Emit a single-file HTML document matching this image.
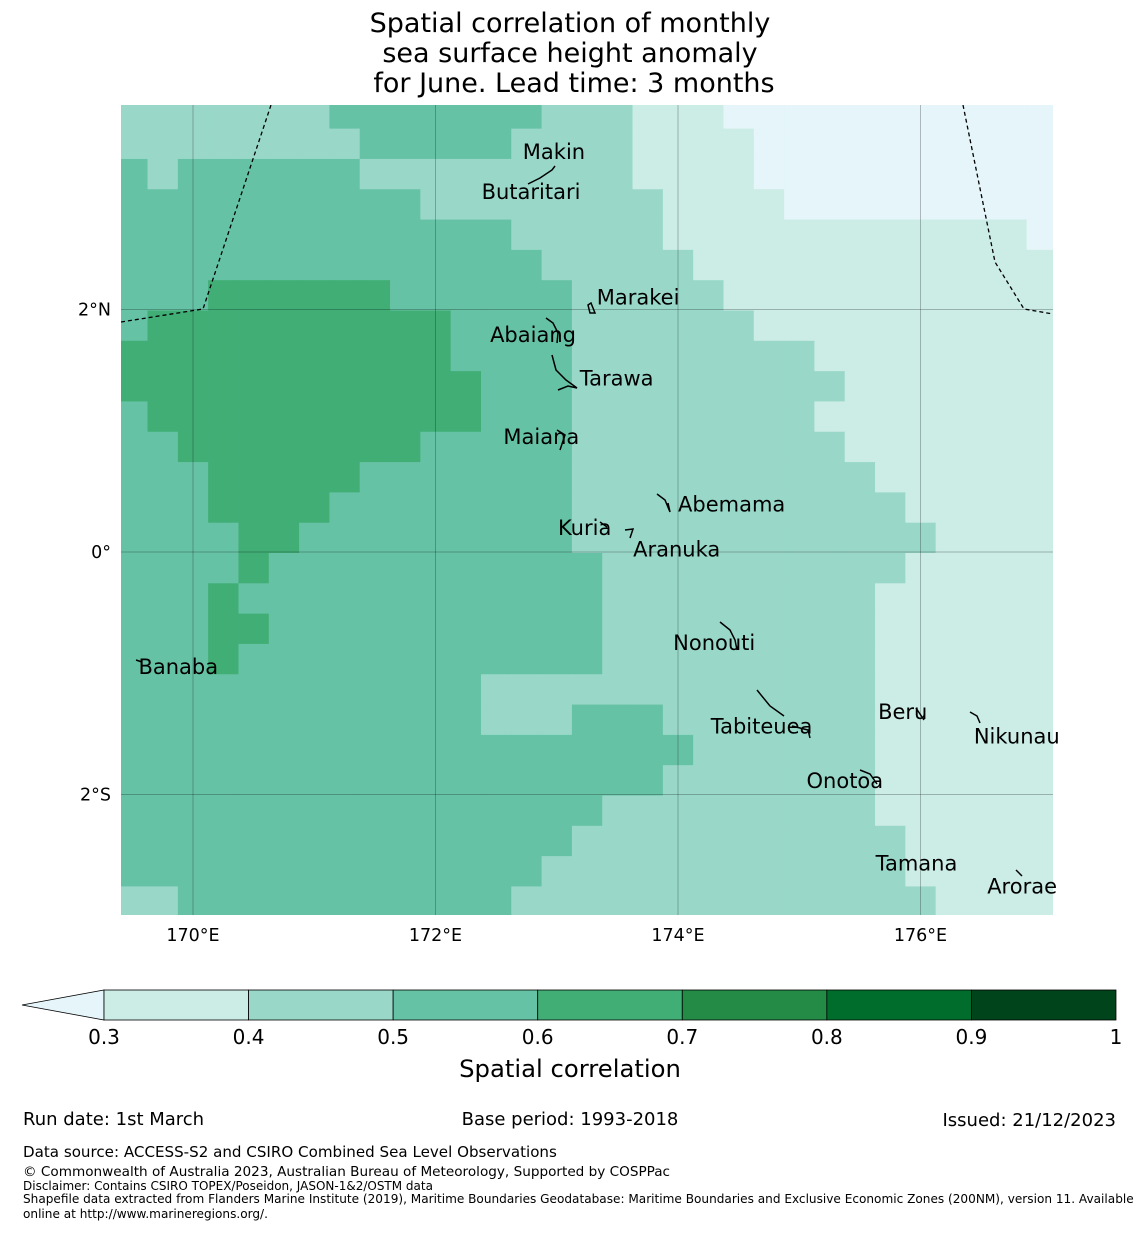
<!DOCTYPE html>
<html><head><meta charset="utf-8"><style>
body{margin:0;background:#fff;}
svg text{font-family:"DejaVu Sans","Liberation Sans",sans-serif;}
</style></head><body>
<svg id="chart" width="1140" height="1230" xmlns="http://www.w3.org/2000/svg">
<g font-size="27" text-anchor="middle" fill="#000">
<text x="570" y="32">Spatial correlation of monthly</text>
<text x="570" y="62">sea surface height anomaly</text>
<text x="574" y="92">for June. Lead time: 3 months</text>
</g>
<defs><clipPath id="mapclip"><rect x="121" y="105" width="932" height="810"/></clipPath></defs>
<g id="cells" clip-path="url(#mapclip)"></g>
<g id="grid" clip-path="url(#mapclip)"></g>
<g id="eez" clip-path="url(#mapclip)" fill="none" stroke="#000" stroke-width="1.3" stroke-dasharray="4,3">
<polyline points="121,322 203,309 271,105"/>
<polyline points="963,105 995,262 1024,309 1053,314"/>
</g>
<g id="islands" fill="none" stroke="#000" stroke-width="1.5"></g>
<g id="labels" font-size="21" fill="#000"></g>
<g id="axes" font-size="17.5" fill="#000"></g>
<g id="cbar"></g>
<text x="570" y="1077" font-size="24.3" text-anchor="middle">Spatial correlation</text>
<g font-size="18" fill="#000">
<text x="23" y="1125">Run date: 1st March</text>
<text x="570" y="1125" text-anchor="middle">Base period: 1993-2018</text>
<text x="1116" y="1126" text-anchor="end">Issued: 21/12/2023</text>
<text x="23" y="1157" font-size="15.1">Data source: ACCESS-S2 and CSIRO Combined Sea Level Observations</text>
<text x="23" y="1176" font-size="13.6">© Commonwealth of Australia 2023, Australian Bureau of Meteorology, Supported by COSPPac</text>
<text x="23" y="1190" font-size="12">Disclaimer: Contains CSIRO TOPEX/Poseidon, JASON-1&amp;2/OSTM data</text>
<text x="23" y="1203" font-size="12.1">Shapefile data extracted from Flanders Marine Institute (2019), Maritime Boundaries Geodatabase: Maritime Boundaries and Exclusive Economic Zones (200NM), version 11. Available</text>
<text x="23" y="1218" font-size="12.1">online at http://www.marineregions.org/.</text>
</g>
</svg>
<script>
// level index per cell: 0:<0.3, 1:0.3-0.4, 2:0.4-0.5, 3:0.5-0.6, 4:0.6-0.7 ; run-length [level,count]
const rowRuns = [
[[2,7],[3,7],[2,3],[1,3],[0,11]],
[[2,8],[3,5],[2,4],[1,4],[0,10]],
[[3,1],[2,1],[3,6],[2,9],[1,4],[0,10]],
[[3,10],[2,8],[1,4],[0,9]],
[[3,13],[2,5],[1,12],[0,1]],
[[3,14],[2,5],[1,12]],
[[3,3],[4,6],[3,6],[2,5],[1,11]],
[[3,1],[4,10],[3,4],[2,6],[1,10]],
[[4,11],[3,4],[2,8],[1,8]],
[[4,12],[3,3],[2,9],[1,7]],
[[3,1],[4,11],[3,3],[2,8],[1,8]],
[[3,2],[4,8],[3,5],[2,9],[1,7]],
[[3,3],[4,5],[3,7],[2,10],[1,6]],
[[3,3],[4,4],[3,8],[2,11],[1,5]],
[[3,4],[4,2],[3,9],[2,12],[1,4]],
[[3,4],[4,1],[3,11],[2,10],[1,5]],
[[3,3],[4,1],[3,12],[2,9],[1,6]],
[[3,3],[4,2],[3,11],[2,9],[1,6]],
[[3,3],[4,1],[3,12],[2,9],[1,6]],
[[3,12],[2,13],[1,6]],
[[3,12],[2,3],[3,3],[2,7],[1,6]],
[[3,19],[2,6],[1,6]],
[[3,18],[2,7],[1,6]],
[[3,16],[2,9],[1,6]],
[[3,15],[2,11],[1,5]],
[[3,14],[2,12],[1,5]],
[[2,2],[3,11],[2,14],[1,4]]
];
const levelColors = ["#e5f5f9","#ccece6","#99d8c9","#66c2a4","#41ae76","#238b45","#006d2c","#00441b"];
const lonTicks = [170,172,174,176];
const lonLabels = ["170°E","172°E","174°E","176°E"];
const latTicks = [2,0,-2];
const latLabels = ["2°N","0°","2°S"];
const cbarTicks = ["0.3","0.4","0.5","0.6","0.7","0.8","0.9","1"];
const islandNames = ["Makin","Butaritari","Marakei","Abaiang","Tarawa","Maiana","Abemama","Kuria","Aranuka","Banaba","Nonouti","Beru","Tabiteuea","Nikunau","Onotoa","Tamana","Arorae"];
const islandLabelLon = [172.72,172.38,173.33,172.45,173.19,172.56,174.0,173.01,173.63,169.55,173.96,175.65,174.27,176.44,175.06,175.63,176.55];
const islandLabelLat = [3.3,2.97,2.1,1.79,1.43,0.95,0.39,0.2,0.02,-0.95,-0.75,-1.32,-1.44,-1.52,-1.89,-2.57,-2.76];
const NS="http://www.w3.org/2000/svg";
const X = lon => 193 + (lon-170)*121.25;
const Y = lat => 552 - lat*121.25;
function mk(tag, attrs, parent){const e=document.createElementNS(NS,tag);for(const k in attrs)e.setAttribute(k,attrs[k]);parent.appendChild(e);return e;}
const cells=document.getElementById('cells');
rowRuns.forEach((runs,r)=>{
  let c=0; const lat=3.625-0.25*r;
  runs.forEach(([lv,n])=>{
    for(let i=0;i<n;i++){
      const lon=169.5+0.25*c;
      const x0=X(lon-0.125), x1=X(lon+0.125), y0=Y(lat+0.125)+1, y1=Y(lat-0.125)+1;
      const e=mk('rect',{x:x0,y:y0,width:x1-x0+0.6,height:y1-y0+0.6,fill:levelColors[lv]},cells);
      
      
      c++;
    }
  });
});
const grid=document.getElementById('grid'), axes=document.getElementById('axes');
lonTicks.forEach((lon,i)=>{
  const l=mk('line',{x1:X(lon),x2:X(lon),y1:105,y2:915,stroke:"#000","stroke-opacity":0.25,"stroke-width":1},grid);
  
  
  const t=mk('text',{x:X(lon),y:941,"text-anchor":"middle"},axes);t.textContent=lonLabels[i];
  
  
});
latTicks.forEach((lat,i)=>{
  const l=mk('line',{x1:121,x2:1053,y1:Y(lat),y2:Y(lat),stroke:"#000","stroke-opacity":0.25,"stroke-width":1},grid);
  
  
  const t=mk('text',{x:111,y:Y(lat)+6,"text-anchor":"end"},axes);t.textContent=latLabels[i];
  
  
});
const labels=document.getElementById('labels');
islandNames.forEach((n,i)=>{
  const t=mk('text',{x:X(islandLabelLon[i]),y:Y(islandLabelLat[i])+7},labels);t.textContent=n;
  
  
});
const isl=document.getElementById('islands');
["M528,184 L540,178 L552,170 L555,166","M546,318 L553,323 L558,333 L557,343","M552,355 L556,370 L566,380 L577,388 L568,386 L558,390","M557,430 L565,435 L560,450","M588,305 L590,313 L595,313 L591,303 Z","M657,494 L665,500 L670,512 L668,503","M600,522 L607,527","M625,530 L633,529 L630,538","M720,622 L730,630 L735,640 L737,650","M757,690 L770,706 L784,716","M792,726 L808,730 L810,738","M970,712 L977,716 L980,723","M916,708 L924,720","M860,770 L870,774 L877,784","M1016,870 L1022,876","M136,660 L142,662"].forEach(d=>{
  const p=mk('path',{d:d},isl);
  
  
});
const cb=document.getElementById('cbar');
const cbx0=104, cbw=144.57;
const tri=mk('polygon',{points:`22,1005 ${cbx0},990 ${cbx0},1020`,fill:levelColors[0],stroke:"#000","stroke-width":0.8},cb);


for(let i=0;i<7;i++){
  const r=mk('rect',{x:cbx0+i*cbw,y:990,width:cbw,height:30,fill:levelColors[i+1],stroke:"#000","stroke-width":0.8},cb);
  
  
}
cbarTicks.forEach((s,i)=>{
  const t=mk('text',{x:cbx0+i*cbw,y:1044,"text-anchor":"middle","font-size":20},cb);t.textContent=s;
  
  
});
</script>
</body></html>
